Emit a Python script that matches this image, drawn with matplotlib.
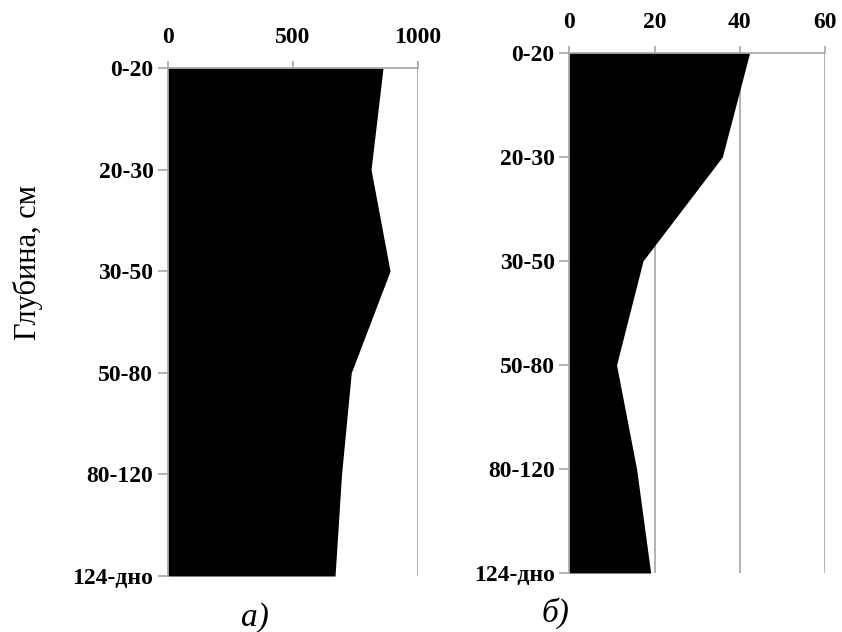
import matplotlib
matplotlib.use("Agg")
import matplotlib.pyplot as plt

# Слои по глубине
layers = ["0-20", "20-30", "30-50", "50-80", "80-120", "124-дно"]
values_a = [860, 812, 888, 733, 694, 668]
values_b = [42.3, 35.9, 17.3, 11.1, 15.8, 19.1]

xticks_a = [0, 500, 1000]
xticks_b = [0, 20, 40, 60]

GRAY = "#a6a6a6"
SERIF = ["Liberation Serif", "DejaVu Serif"]

fig = plt.figure(figsize=(8.42, 6.32), dpi=100)
fig.patch.set_facecolor("white")

ax_a = fig.add_axes([0.1995, 0.0886, 0.297, 0.804])
ax_b = fig.add_axes([0.676, 0.0934, 0.304, 0.823])


def style_axis(ax, values, xticks):
    pos = list(range(len(layers)))
    ax.fill_betweenx(pos, 0, values, color="black", lw=0, zorder=2)
    ax.set_xlim(xticks[0], xticks[-1])
    ax.set_ylim(len(layers) - 1, 0)
    ax.set_xticks(xticks)
    ax.set_yticks(pos)
    ax.set_yticklabels(layers)
    ax.xaxis.tick_top()
    ax.grid(axis="x", color=GRAY, lw=1.2, zorder=1)
    for side in ("right", "bottom"):
        ax.spines[side].set_visible(False)
    for side in ("left", "top"):
        ax.spines[side].set_color(GRAY)
        ax.spines[side].set_linewidth(1.2)
    ax.tick_params(axis="both", colors=GRAY, width=1.2, length=7, direction="out")
    ax.tick_params(axis="x", length=5, pad=9)
    for lab in ax.get_xticklabels() + ax.get_yticklabels():
        lab.set_fontfamily(SERIF)
        lab.set_fontweight("bold")
        lab.set_fontsize(17)
        lab.set_color("black")


style_axis(ax_a, values_a, xticks_a)
style_axis(ax_b, values_b, xticks_b)

fig.text(0.033, 0.584, "Глубина, см", rotation=90, ha="center", va="center",
         fontsize=22, family=SERIF)
fig.text(0.303, 0.022, "а)", ha="center", va="center", fontsize=24,
         family=SERIF, style="italic")
fig.text(0.66, 0.03, "б)", ha="center", va="center", fontsize=24,
         family=SERIF, style="italic")

fig.savefig("out.png", dpi=100)
